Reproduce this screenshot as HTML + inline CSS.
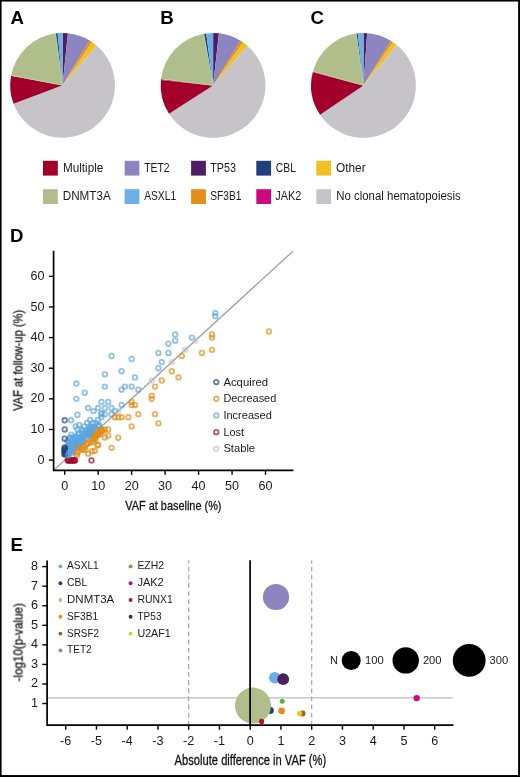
<!DOCTYPE html>
<html><head><meta charset="utf-8"><style>
html,body{margin:0;padding:0;background:#fff;}
body{width:520px;height:777px;overflow:hidden;}
svg{display:block;font-family:"Liberation Sans", sans-serif;}
text{will-change:transform;}
</style></head><body>
<svg width="520" height="777" viewBox="0 0 520 777">
<rect x="0" y="0" width="520" height="777" fill="#fff"/>
<text x="10.6" y="24.3" font-size="18.6" text-anchor="start" font-weight="bold" fill="#000">A</text>
<text x="160.2" y="24.3" font-size="18.6" text-anchor="start" font-weight="bold" fill="#000">B</text>
<text x="310.5" y="24.1" font-size="18.6" text-anchor="start" font-weight="bold" fill="#000">C</text>
<text x="10.0" y="241.7" font-size="18.6" text-anchor="start" font-weight="bold" fill="#000">D</text>
<text x="10.5" y="550.9" font-size="18.6" text-anchor="start" font-weight="bold" fill="#000">E</text>
<path d="M62.60,85.30 L62.60,32.90 A52.4,52.4 0 0 1 67.90,33.17 Z" fill="#4E1E63"/>
<path d="M62.60,85.30 L67.90,33.17 A52.4,52.4 0 0 1 89.74,40.48 Z" fill="#8D85C0"/>
<path d="M62.60,85.30 L89.74,40.48 A52.4,52.4 0 0 1 92.05,41.96 Z" fill="#E48F1B"/>
<path d="M62.60,85.30 L92.05,41.96 A52.4,52.4 0 0 1 96.63,45.45 Z" fill="#F0C120"/>
<path d="M62.60,85.30 L96.63,45.45 A52.4,52.4 0 1 1 13.58,103.82 Z" fill="#C6C4C9"/>
<path d="M62.60,85.30 L13.58,103.82 A52.4,52.4 0 0 1 11.09,75.66 Z" fill="#A2002B"/>
<path d="M62.60,85.30 L11.09,75.66 A52.4,52.4 0 0 1 55.76,33.35 Z" fill="#AFBE8B"/>
<path d="M62.60,85.30 L55.76,33.35 A52.4,52.4 0 0 1 57.67,33.13 Z" fill="#21407E"/>
<path d="M62.60,85.30 L57.67,33.13 A52.4,52.4 0 0 1 62.60,32.90 Z" fill="#6BAFE5"/>
<line x1="62.60" y1="85.30" x2="11.55" y2="75.42" stroke="#BCDB9E" stroke-width="0.7"/>
<line x1="62.60" y1="85.30" x2="55.50" y2="33.79" stroke="#BCDB9E" stroke-width="0.7"/>
<path d="M213.10,85.40 L213.10,33.00 A52.4,52.4 0 0 1 218.94,33.33 Z" fill="#4E1E63"/>
<path d="M213.10,85.40 L218.94,33.33 A52.4,52.4 0 0 1 240.63,40.82 Z" fill="#8D85C0"/>
<path d="M213.10,85.40 L240.63,40.82 A52.4,52.4 0 0 1 243.01,42.37 Z" fill="#E48F1B"/>
<path d="M213.10,85.40 L243.01,42.37 A52.4,52.4 0 0 1 247.34,45.73 Z" fill="#F0C120"/>
<path d="M213.10,85.40 L247.34,45.73 A52.4,52.4 0 1 1 169.00,113.71 Z" fill="#C6C4C9"/>
<path d="M213.10,85.40 L169.00,113.71 A52.4,52.4 0 0 1 160.99,79.92 Z" fill="#A2002B"/>
<path d="M213.10,85.40 L160.99,79.92 A52.4,52.4 0 0 1 161.08,79.10 Z" fill="#CC0A7F"/>
<path d="M213.10,85.40 L161.08,79.10 A52.4,52.4 0 0 1 204.00,33.80 Z" fill="#AFBE8B"/>
<path d="M213.10,85.40 L204.00,33.80 A52.4,52.4 0 0 1 206.26,33.45 Z" fill="#21407E"/>
<path d="M213.10,85.40 L206.26,33.45 A52.4,52.4 0 0 1 213.10,33.00 Z" fill="#6BAFE5"/>
<line x1="213.10" y1="85.40" x2="161.52" y2="78.84" stroke="#BCDB9E" stroke-width="0.7"/>
<line x1="213.10" y1="85.40" x2="203.76" y2="34.25" stroke="#BCDB9E" stroke-width="0.7"/>
<path d="M363.50,85.40 L363.50,33.00 A52.4,52.4 0 0 1 367.16,33.13 Z" fill="#4E1E63"/>
<path d="M363.50,85.40 L367.16,33.13 A52.4,52.4 0 0 1 390.96,40.77 Z" fill="#8D85C0"/>
<path d="M363.50,85.40 L390.96,40.77 A52.4,52.4 0 0 1 392.95,42.06 Z" fill="#E48F1B"/>
<path d="M363.50,85.40 L392.95,42.06 A52.4,52.4 0 0 1 396.83,44.97 Z" fill="#F0C120"/>
<path d="M363.50,85.40 L396.83,44.97 A52.4,52.4 0 1 1 320.06,114.70 Z" fill="#C6C4C9"/>
<path d="M363.50,85.40 L320.06,114.70 A52.4,52.4 0 0 1 312.77,72.28 Z" fill="#A2002B"/>
<path d="M363.50,85.40 L312.77,72.28 A52.4,52.4 0 0 1 312.98,71.48 Z" fill="#CC0A7F"/>
<path d="M363.50,85.40 L312.98,71.48 A52.4,52.4 0 0 1 356.39,33.48 Z" fill="#AFBE8B"/>
<path d="M363.50,85.40 L356.39,33.48 A52.4,52.4 0 0 1 357.75,33.32 Z" fill="#21407E"/>
<path d="M363.50,85.40 L357.75,33.32 A52.4,52.4 0 0 1 363.50,33.00 Z" fill="#6BAFE5"/>
<line x1="363.50" y1="85.40" x2="313.45" y2="71.29" stroke="#BCDB9E" stroke-width="0.7"/>
<line x1="363.50" y1="85.40" x2="356.13" y2="33.93" stroke="#BCDB9E" stroke-width="0.7"/>
<rect x="43" y="160.8" width="14.8" height="14.8" fill="#A2002B"/>
<text x="62.90" y="171.7" font-size="12" fill="#1a1a1a" textLength="40.40" lengthAdjust="spacingAndGlyphs">Multiple</text>
<rect x="124.6" y="160.8" width="14.8" height="14.8" fill="#8D85C0"/>
<text x="144.20" y="171.7" font-size="12" fill="#1a1a1a" textLength="25.40" lengthAdjust="spacingAndGlyphs">TET2</text>
<rect x="191.1" y="160.8" width="14.8" height="14.8" fill="#4E1E63"/>
<text x="210.20" y="171.7" font-size="12" fill="#1a1a1a" textLength="25.70" lengthAdjust="spacingAndGlyphs">TP53</text>
<rect x="256.3" y="160.8" width="14.8" height="14.8" fill="#21407E"/>
<text x="275.80" y="171.7" font-size="12" fill="#1a1a1a" textLength="20.20" lengthAdjust="spacingAndGlyphs">CBL</text>
<rect x="316.3" y="160.8" width="14.8" height="14.8" fill="#F0C120"/>
<text x="336.00" y="171.7" font-size="12" fill="#1a1a1a" textLength="29.60" lengthAdjust="spacingAndGlyphs">Other</text>
<rect x="43" y="189.2" width="14.8" height="14.8" fill="#AFBE8B"/>
<text x="62.70" y="200.1" font-size="12" fill="#1a1a1a" textLength="48.10" lengthAdjust="spacingAndGlyphs">DNMT3A</text>
<rect x="124.6" y="189.2" width="14.8" height="14.8" fill="#6BAFE5"/>
<text x="144.20" y="200.1" font-size="12" fill="#1a1a1a" textLength="31.90" lengthAdjust="spacingAndGlyphs">ASXL1</text>
<rect x="191.1" y="189.2" width="14.8" height="14.8" fill="#E48F1B"/>
<text x="210.20" y="200.1" font-size="12" fill="#1a1a1a" textLength="31.30" lengthAdjust="spacingAndGlyphs">SF3B1</text>
<rect x="256.3" y="189.2" width="14.8" height="14.8" fill="#CC0A7F"/>
<text x="275.20" y="200.1" font-size="12" fill="#1a1a1a" textLength="26.00" lengthAdjust="spacingAndGlyphs">JAK2</text>
<rect x="316.3" y="189.2" width="14.8" height="14.8" fill="#C6C4C9"/>
<text x="336.20" y="200.1" font-size="12" fill="#1a1a1a" textLength="124.60" lengthAdjust="spacingAndGlyphs">No clonal hematopoiesis</text>
<line x1="54.99" y1="468.98" x2="292.97" y2="251.20" stroke="#A3A3A3" stroke-width="1.35"/>
<path d="M53.6,250.8 L53.6,470.3 L293.4,470.3" fill="none" stroke="#000" stroke-width="1.7"/>
<line x1="48.9" y1="460.10" x2="53.6" y2="460.10" stroke="#000" stroke-width="1.4"/>
<text x="44.5" y="463.70000000000005" font-size="12.6" text-anchor="end" font-weight="normal" fill="#1a1a1a">0</text>
<line x1="64.70" y1="470.3" x2="64.70" y2="474.8" stroke="#000" stroke-width="1.4"/>
<text x="64.7" y="489.6" font-size="12.6" text-anchor="middle" font-weight="normal" fill="#1a1a1a">0</text>
<line x1="48.9" y1="429.47" x2="53.6" y2="429.47" stroke="#000" stroke-width="1.4"/>
<text x="44.5" y="433.07000000000005" font-size="12.6" text-anchor="end" font-weight="normal" fill="#1a1a1a">10</text>
<line x1="98.17" y1="470.3" x2="98.17" y2="474.8" stroke="#000" stroke-width="1.4"/>
<text x="98.17" y="489.6" font-size="12.6" text-anchor="middle" font-weight="normal" fill="#1a1a1a">10</text>
<line x1="48.9" y1="398.84" x2="53.6" y2="398.84" stroke="#000" stroke-width="1.4"/>
<text x="44.5" y="402.44000000000005" font-size="12.6" text-anchor="end" font-weight="normal" fill="#1a1a1a">20</text>
<line x1="131.64" y1="470.3" x2="131.64" y2="474.8" stroke="#000" stroke-width="1.4"/>
<text x="131.64" y="489.6" font-size="12.6" text-anchor="middle" font-weight="normal" fill="#1a1a1a">20</text>
<line x1="48.9" y1="368.21" x2="53.6" y2="368.21" stroke="#000" stroke-width="1.4"/>
<text x="44.5" y="371.81000000000006" font-size="12.6" text-anchor="end" font-weight="normal" fill="#1a1a1a">30</text>
<line x1="165.11" y1="470.3" x2="165.11" y2="474.8" stroke="#000" stroke-width="1.4"/>
<text x="165.11" y="489.6" font-size="12.6" text-anchor="middle" font-weight="normal" fill="#1a1a1a">30</text>
<line x1="48.9" y1="337.58" x2="53.6" y2="337.58" stroke="#000" stroke-width="1.4"/>
<text x="44.5" y="341.18000000000006" font-size="12.6" text-anchor="end" font-weight="normal" fill="#1a1a1a">40</text>
<line x1="198.58" y1="470.3" x2="198.58" y2="474.8" stroke="#000" stroke-width="1.4"/>
<text x="198.57999999999998" y="489.6" font-size="12.6" text-anchor="middle" font-weight="normal" fill="#1a1a1a">40</text>
<line x1="48.9" y1="306.95" x2="53.6" y2="306.95" stroke="#000" stroke-width="1.4"/>
<text x="44.5" y="310.55000000000007" font-size="12.6" text-anchor="end" font-weight="normal" fill="#1a1a1a">50</text>
<line x1="232.05" y1="470.3" x2="232.05" y2="474.8" stroke="#000" stroke-width="1.4"/>
<text x="232.05" y="489.6" font-size="12.6" text-anchor="middle" font-weight="normal" fill="#1a1a1a">50</text>
<line x1="48.9" y1="276.32" x2="53.6" y2="276.32" stroke="#000" stroke-width="1.4"/>
<text x="44.5" y="279.9200000000001" font-size="12.6" text-anchor="end" font-weight="normal" fill="#1a1a1a">60</text>
<line x1="265.52" y1="470.3" x2="265.52" y2="474.8" stroke="#000" stroke-width="1.4"/>
<text x="265.52" y="489.6" font-size="12.6" text-anchor="middle" font-weight="normal" fill="#1a1a1a">60</text>
<text x="125.3" y="509.5" font-size="13.7" text-anchor="start" font-weight="normal" fill="#111" textLength="96.2" lengthAdjust="spacingAndGlyphs" stroke="#111" stroke-width="0.3">VAF at baseline (%)</text>
<text transform="translate(22.4,410.8) rotate(-90)" x="0" y="0" font-size="13.4" fill="#111" stroke="#111" stroke-width="0.3" textLength="101" lengthAdjust="spacingAndGlyphs">VAF at follow-up (%)</text>
<circle cx="215.31" cy="313.08" r="2.3" fill="none" stroke="#5BA5E0" stroke-opacity="0.68" stroke-width="1.8"/>
<circle cx="215.31" cy="316.14" r="2.3" fill="none" stroke="#5BA5E0" stroke-opacity="0.68" stroke-width="1.8"/>
<circle cx="175.15" cy="334.52" r="2.3" fill="none" stroke="#5BA5E0" stroke-opacity="0.68" stroke-width="1.8"/>
<circle cx="175.15" cy="340.64" r="2.3" fill="none" stroke="#5BA5E0" stroke-opacity="0.68" stroke-width="1.8"/>
<circle cx="191.89" cy="337.58" r="2.3" fill="none" stroke="#5BA5E0" stroke-opacity="0.68" stroke-width="1.8"/>
<circle cx="168.46" cy="343.71" r="2.3" fill="none" stroke="#5BA5E0" stroke-opacity="0.68" stroke-width="1.8"/>
<circle cx="158.42" cy="352.89" r="2.3" fill="none" stroke="#5BA5E0" stroke-opacity="0.68" stroke-width="1.8"/>
<circle cx="168.46" cy="352.89" r="2.3" fill="none" stroke="#5BA5E0" stroke-opacity="0.68" stroke-width="1.8"/>
<circle cx="161.76" cy="362.08" r="2.3" fill="none" stroke="#5BA5E0" stroke-opacity="0.68" stroke-width="1.8"/>
<circle cx="158.42" cy="368.21" r="2.3" fill="none" stroke="#5BA5E0" stroke-opacity="0.68" stroke-width="1.8"/>
<circle cx="111.56" cy="355.96" r="2.3" fill="none" stroke="#5BA5E0" stroke-opacity="0.68" stroke-width="1.8"/>
<circle cx="131.64" cy="359.02" r="2.3" fill="none" stroke="#5BA5E0" stroke-opacity="0.68" stroke-width="1.8"/>
<circle cx="104.86" cy="374.34" r="2.3" fill="none" stroke="#5BA5E0" stroke-opacity="0.68" stroke-width="1.8"/>
<circle cx="121.60" cy="371.27" r="2.3" fill="none" stroke="#5BA5E0" stroke-opacity="0.68" stroke-width="1.8"/>
<circle cx="134.99" cy="377.40" r="2.3" fill="none" stroke="#5BA5E0" stroke-opacity="0.68" stroke-width="1.8"/>
<circle cx="76.41" cy="383.53" r="2.3" fill="none" stroke="#5BA5E0" stroke-opacity="0.68" stroke-width="1.8"/>
<circle cx="84.78" cy="392.71" r="2.3" fill="none" stroke="#5BA5E0" stroke-opacity="0.68" stroke-width="1.8"/>
<circle cx="104.86" cy="386.59" r="2.3" fill="none" stroke="#5BA5E0" stroke-opacity="0.68" stroke-width="1.8"/>
<circle cx="121.60" cy="389.65" r="2.3" fill="none" stroke="#5BA5E0" stroke-opacity="0.68" stroke-width="1.8"/>
<circle cx="124.95" cy="386.59" r="2.3" fill="none" stroke="#5BA5E0" stroke-opacity="0.68" stroke-width="1.8"/>
<circle cx="131.64" cy="386.59" r="2.3" fill="none" stroke="#5BA5E0" stroke-opacity="0.68" stroke-width="1.8"/>
<circle cx="76.41" cy="398.84" r="2.3" fill="none" stroke="#5BA5E0" stroke-opacity="0.68" stroke-width="1.8"/>
<circle cx="138.33" cy="389.65" r="2.3" fill="none" stroke="#5BA5E0" stroke-opacity="0.68" stroke-width="1.8"/>
<circle cx="121.60" cy="404.97" r="2.3" fill="none" stroke="#5BA5E0" stroke-opacity="0.68" stroke-width="1.8"/>
<circle cx="101.52" cy="401.90" r="2.3" fill="none" stroke="#5BA5E0" stroke-opacity="0.68" stroke-width="1.8"/>
<circle cx="108.21" cy="401.90" r="2.3" fill="none" stroke="#5BA5E0" stroke-opacity="0.68" stroke-width="1.8"/>
<circle cx="88.13" cy="408.03" r="2.3" fill="none" stroke="#5BA5E0" stroke-opacity="0.68" stroke-width="1.8"/>
<circle cx="93.48" cy="411.09" r="2.3" fill="none" stroke="#5BA5E0" stroke-opacity="0.68" stroke-width="1.8"/>
<circle cx="98.17" cy="408.03" r="2.3" fill="none" stroke="#5BA5E0" stroke-opacity="0.68" stroke-width="1.8"/>
<circle cx="104.86" cy="408.03" r="2.3" fill="none" stroke="#5BA5E0" stroke-opacity="0.68" stroke-width="1.8"/>
<circle cx="111.56" cy="408.03" r="2.3" fill="none" stroke="#5BA5E0" stroke-opacity="0.68" stroke-width="1.8"/>
<circle cx="114.91" cy="411.09" r="2.3" fill="none" stroke="#5BA5E0" stroke-opacity="0.68" stroke-width="1.8"/>
<circle cx="101.52" cy="414.16" r="2.3" fill="none" stroke="#5BA5E0" stroke-opacity="0.68" stroke-width="1.8"/>
<circle cx="101.52" cy="413.24" r="2.3" fill="none" stroke="#5BA5E0" stroke-opacity="0.68" stroke-width="1.8"/>
<circle cx="104.86" cy="414.16" r="2.3" fill="none" stroke="#5BA5E0" stroke-opacity="0.68" stroke-width="1.8"/>
<circle cx="111.56" cy="414.16" r="2.3" fill="none" stroke="#5BA5E0" stroke-opacity="0.68" stroke-width="1.8"/>
<circle cx="101.52" cy="417.22" r="2.3" fill="none" stroke="#5BA5E0" stroke-opacity="0.68" stroke-width="1.8"/>
<circle cx="90.14" cy="419.97" r="2.3" fill="none" stroke="#5BA5E0" stroke-opacity="0.68" stroke-width="1.8"/>
<circle cx="97.84" cy="419.97" r="2.3" fill="none" stroke="#5BA5E0" stroke-opacity="0.68" stroke-width="1.8"/>
<circle cx="77.42" cy="414.77" r="2.3" fill="none" stroke="#5BA5E0" stroke-opacity="0.68" stroke-width="1.8"/>
<circle cx="71.06" cy="420.28" r="2.3" fill="none" stroke="#5BA5E0" stroke-opacity="0.68" stroke-width="1.8"/>
<circle cx="75.75" cy="426.41" r="2.3" fill="none" stroke="#5BA5E0" stroke-opacity="0.68" stroke-width="1.8"/>
<circle cx="87.12" cy="423.04" r="2.3" fill="none" stroke="#5BA5E0" stroke-opacity="0.68" stroke-width="1.8"/>
<circle cx="84.11" cy="426.41" r="2.3" fill="none" stroke="#5BA5E0" stroke-opacity="0.68" stroke-width="1.8"/>
<circle cx="89.80" cy="426.41" r="2.3" fill="none" stroke="#5BA5E0" stroke-opacity="0.68" stroke-width="1.8"/>
<circle cx="77.42" cy="429.47" r="2.3" fill="none" stroke="#5BA5E0" stroke-opacity="0.68" stroke-width="1.8"/>
<circle cx="79.09" cy="424.88" r="2.3" fill="none" stroke="#5BA5E0" stroke-opacity="0.68" stroke-width="1.8"/>
<circle cx="92.81" cy="423.04" r="2.3" fill="none" stroke="#5BA5E0" stroke-opacity="0.68" stroke-width="1.8"/>
<circle cx="95.83" cy="423.04" r="2.3" fill="none" stroke="#5BA5E0" stroke-opacity="0.68" stroke-width="1.8"/>
<circle cx="78.42" cy="434.06" r="2.3" fill="none" stroke="#5BA5E0" stroke-opacity="0.68" stroke-width="1.8"/>
<circle cx="82.10" cy="429.47" r="2.3" fill="none" stroke="#5BA5E0" stroke-opacity="0.68" stroke-width="1.8"/>
<circle cx="71.39" cy="434.68" r="2.3" fill="none" stroke="#5BA5E0" stroke-opacity="0.68" stroke-width="1.8"/>
<circle cx="70.39" cy="438.66" r="2.3" fill="none" stroke="#5BA5E0" stroke-opacity="0.68" stroke-width="1.8"/>
<circle cx="67.24" cy="455.32" r="2.3" fill="none" stroke="#5BA5E0" stroke-opacity="0.68" stroke-width="1.8"/>
<circle cx="67.76" cy="453.99" r="2.3" fill="none" stroke="#5BA5E0" stroke-opacity="0.68" stroke-width="1.8"/>
<circle cx="67.72" cy="452.70" r="2.3" fill="none" stroke="#5BA5E0" stroke-opacity="0.68" stroke-width="1.8"/>
<circle cx="67.14" cy="450.95" r="2.3" fill="none" stroke="#5BA5E0" stroke-opacity="0.68" stroke-width="1.8"/>
<circle cx="68.15" cy="449.23" r="2.3" fill="none" stroke="#5BA5E0" stroke-opacity="0.68" stroke-width="1.8"/>
<circle cx="67.88" cy="446.53" r="2.3" fill="none" stroke="#5BA5E0" stroke-opacity="0.68" stroke-width="1.8"/>
<circle cx="68.35" cy="444.27" r="2.3" fill="none" stroke="#5BA5E0" stroke-opacity="0.68" stroke-width="1.8"/>
<circle cx="67.24" cy="440.81" r="2.3" fill="none" stroke="#5BA5E0" stroke-opacity="0.68" stroke-width="1.8"/>
<circle cx="69.50" cy="452.12" r="2.3" fill="none" stroke="#5BA5E0" stroke-opacity="0.68" stroke-width="1.8"/>
<circle cx="69.45" cy="451.14" r="2.3" fill="none" stroke="#5BA5E0" stroke-opacity="0.68" stroke-width="1.8"/>
<circle cx="68.99" cy="448.70" r="2.3" fill="none" stroke="#5BA5E0" stroke-opacity="0.68" stroke-width="1.8"/>
<circle cx="69.14" cy="447.13" r="2.3" fill="none" stroke="#5BA5E0" stroke-opacity="0.68" stroke-width="1.8"/>
<circle cx="69.12" cy="445.19" r="2.3" fill="none" stroke="#5BA5E0" stroke-opacity="0.68" stroke-width="1.8"/>
<circle cx="69.49" cy="442.15" r="2.3" fill="none" stroke="#5BA5E0" stroke-opacity="0.68" stroke-width="1.8"/>
<circle cx="70.03" cy="437.60" r="2.3" fill="none" stroke="#5BA5E0" stroke-opacity="0.68" stroke-width="1.8"/>
<circle cx="71.40" cy="452.87" r="2.3" fill="none" stroke="#5BA5E0" stroke-opacity="0.68" stroke-width="1.8"/>
<circle cx="70.44" cy="450.55" r="2.3" fill="none" stroke="#5BA5E0" stroke-opacity="0.68" stroke-width="1.8"/>
<circle cx="71.56" cy="447.62" r="2.3" fill="none" stroke="#5BA5E0" stroke-opacity="0.68" stroke-width="1.8"/>
<circle cx="72.95" cy="451.45" r="2.3" fill="none" stroke="#5BA5E0" stroke-opacity="0.68" stroke-width="1.8"/>
<circle cx="72.93" cy="448.62" r="2.3" fill="none" stroke="#5BA5E0" stroke-opacity="0.68" stroke-width="1.8"/>
<circle cx="72.58" cy="445.65" r="2.3" fill="none" stroke="#5BA5E0" stroke-opacity="0.68" stroke-width="1.8"/>
<circle cx="72.68" cy="444.58" r="2.3" fill="none" stroke="#5BA5E0" stroke-opacity="0.68" stroke-width="1.8"/>
<circle cx="72.14" cy="442.16" r="2.3" fill="none" stroke="#5BA5E0" stroke-opacity="0.68" stroke-width="1.8"/>
<circle cx="72.39" cy="440.94" r="2.3" fill="none" stroke="#5BA5E0" stroke-opacity="0.68" stroke-width="1.8"/>
<circle cx="72.66" cy="437.37" r="2.3" fill="none" stroke="#5BA5E0" stroke-opacity="0.68" stroke-width="1.8"/>
<circle cx="74.29" cy="446.18" r="2.3" fill="none" stroke="#5BA5E0" stroke-opacity="0.68" stroke-width="1.8"/>
<circle cx="73.97" cy="441.28" r="2.3" fill="none" stroke="#5BA5E0" stroke-opacity="0.68" stroke-width="1.8"/>
<circle cx="74.39" cy="439.16" r="2.3" fill="none" stroke="#5BA5E0" stroke-opacity="0.68" stroke-width="1.8"/>
<circle cx="73.74" cy="437.69" r="2.3" fill="none" stroke="#5BA5E0" stroke-opacity="0.68" stroke-width="1.8"/>
<circle cx="76.69" cy="447.61" r="2.3" fill="none" stroke="#5BA5E0" stroke-opacity="0.68" stroke-width="1.8"/>
<circle cx="76.24" cy="445.95" r="2.3" fill="none" stroke="#5BA5E0" stroke-opacity="0.68" stroke-width="1.8"/>
<circle cx="76.61" cy="444.14" r="2.3" fill="none" stroke="#5BA5E0" stroke-opacity="0.68" stroke-width="1.8"/>
<circle cx="75.94" cy="439.91" r="2.3" fill="none" stroke="#5BA5E0" stroke-opacity="0.68" stroke-width="1.8"/>
<circle cx="75.50" cy="436.41" r="2.3" fill="none" stroke="#5BA5E0" stroke-opacity="0.68" stroke-width="1.8"/>
<circle cx="77.54" cy="446.86" r="2.3" fill="none" stroke="#5BA5E0" stroke-opacity="0.68" stroke-width="1.8"/>
<circle cx="77.29" cy="445.12" r="2.3" fill="none" stroke="#5BA5E0" stroke-opacity="0.68" stroke-width="1.8"/>
<circle cx="77.12" cy="442.49" r="2.3" fill="none" stroke="#5BA5E0" stroke-opacity="0.68" stroke-width="1.8"/>
<circle cx="77.42" cy="439.76" r="2.3" fill="none" stroke="#5BA5E0" stroke-opacity="0.68" stroke-width="1.8"/>
<circle cx="77.25" cy="437.47" r="2.3" fill="none" stroke="#5BA5E0" stroke-opacity="0.68" stroke-width="1.8"/>
<circle cx="78.87" cy="445.27" r="2.3" fill="none" stroke="#5BA5E0" stroke-opacity="0.68" stroke-width="1.8"/>
<circle cx="79.11" cy="442.70" r="2.3" fill="none" stroke="#5BA5E0" stroke-opacity="0.68" stroke-width="1.8"/>
<circle cx="78.79" cy="440.86" r="2.3" fill="none" stroke="#5BA5E0" stroke-opacity="0.68" stroke-width="1.8"/>
<circle cx="78.95" cy="439.68" r="2.3" fill="none" stroke="#5BA5E0" stroke-opacity="0.68" stroke-width="1.8"/>
<circle cx="79.46" cy="437.46" r="2.3" fill="none" stroke="#5BA5E0" stroke-opacity="0.68" stroke-width="1.8"/>
<circle cx="79.25" cy="433.40" r="2.3" fill="none" stroke="#5BA5E0" stroke-opacity="0.68" stroke-width="1.8"/>
<circle cx="81.14" cy="442.91" r="2.3" fill="none" stroke="#5BA5E0" stroke-opacity="0.68" stroke-width="1.8"/>
<circle cx="80.73" cy="441.19" r="2.3" fill="none" stroke="#5BA5E0" stroke-opacity="0.68" stroke-width="1.8"/>
<circle cx="82.80" cy="441.90" r="2.3" fill="none" stroke="#5BA5E0" stroke-opacity="0.68" stroke-width="1.8"/>
<circle cx="82.14" cy="440.31" r="2.3" fill="none" stroke="#5BA5E0" stroke-opacity="0.68" stroke-width="1.8"/>
<circle cx="83.03" cy="437.79" r="2.3" fill="none" stroke="#5BA5E0" stroke-opacity="0.68" stroke-width="1.8"/>
<circle cx="83.36" cy="436.07" r="2.3" fill="none" stroke="#5BA5E0" stroke-opacity="0.68" stroke-width="1.8"/>
<circle cx="82.40" cy="433.63" r="2.3" fill="none" stroke="#5BA5E0" stroke-opacity="0.68" stroke-width="1.8"/>
<circle cx="82.38" cy="431.46" r="2.3" fill="none" stroke="#5BA5E0" stroke-opacity="0.68" stroke-width="1.8"/>
<circle cx="84.65" cy="436.45" r="2.3" fill="none" stroke="#5BA5E0" stroke-opacity="0.68" stroke-width="1.8"/>
<circle cx="84.66" cy="434.63" r="2.3" fill="none" stroke="#5BA5E0" stroke-opacity="0.68" stroke-width="1.8"/>
<circle cx="86.51" cy="438.86" r="2.3" fill="none" stroke="#5BA5E0" stroke-opacity="0.68" stroke-width="1.8"/>
<circle cx="85.99" cy="433.06" r="2.3" fill="none" stroke="#5BA5E0" stroke-opacity="0.68" stroke-width="1.8"/>
<circle cx="85.62" cy="430.66" r="2.3" fill="none" stroke="#5BA5E0" stroke-opacity="0.68" stroke-width="1.8"/>
<circle cx="88.23" cy="434.85" r="2.3" fill="none" stroke="#5BA5E0" stroke-opacity="0.68" stroke-width="1.8"/>
<circle cx="87.86" cy="432.53" r="2.3" fill="none" stroke="#5BA5E0" stroke-opacity="0.68" stroke-width="1.8"/>
<circle cx="88.42" cy="430.21" r="2.3" fill="none" stroke="#5BA5E0" stroke-opacity="0.68" stroke-width="1.8"/>
<circle cx="89.97" cy="435.20" r="2.3" fill="none" stroke="#5BA5E0" stroke-opacity="0.68" stroke-width="1.8"/>
<circle cx="89.14" cy="434.17" r="2.3" fill="none" stroke="#5BA5E0" stroke-opacity="0.68" stroke-width="1.8"/>
<circle cx="89.58" cy="432.52" r="2.3" fill="none" stroke="#5BA5E0" stroke-opacity="0.68" stroke-width="1.8"/>
<circle cx="88.97" cy="430.04" r="2.3" fill="none" stroke="#5BA5E0" stroke-opacity="0.68" stroke-width="1.8"/>
<circle cx="89.41" cy="428.76" r="2.3" fill="none" stroke="#5BA5E0" stroke-opacity="0.68" stroke-width="1.8"/>
<circle cx="91.70" cy="434.06" r="2.3" fill="none" stroke="#5BA5E0" stroke-opacity="0.68" stroke-width="1.8"/>
<circle cx="91.17" cy="432.97" r="2.3" fill="none" stroke="#5BA5E0" stroke-opacity="0.68" stroke-width="1.8"/>
<circle cx="90.72" cy="431.30" r="2.3" fill="none" stroke="#5BA5E0" stroke-opacity="0.68" stroke-width="1.8"/>
<circle cx="91.11" cy="427.05" r="2.3" fill="none" stroke="#5BA5E0" stroke-opacity="0.68" stroke-width="1.8"/>
<circle cx="92.84" cy="432.47" r="2.3" fill="none" stroke="#5BA5E0" stroke-opacity="0.68" stroke-width="1.8"/>
<circle cx="92.90" cy="429.47" r="2.3" fill="none" stroke="#5BA5E0" stroke-opacity="0.68" stroke-width="1.8"/>
<circle cx="93.18" cy="427.47" r="2.3" fill="none" stroke="#5BA5E0" stroke-opacity="0.68" stroke-width="1.8"/>
<circle cx="94.64" cy="427.63" r="2.3" fill="none" stroke="#5BA5E0" stroke-opacity="0.68" stroke-width="1.8"/>
<circle cx="96.21" cy="429.50" r="2.3" fill="none" stroke="#5BA5E0" stroke-opacity="0.68" stroke-width="1.8"/>
<circle cx="97.91" cy="425.71" r="2.3" fill="none" stroke="#5BA5E0" stroke-opacity="0.68" stroke-width="1.8"/>
<circle cx="99.00" cy="426.48" r="2.3" fill="none" stroke="#5BA5E0" stroke-opacity="0.68" stroke-width="1.8"/>
<circle cx="99.16" cy="425.25" r="2.3" fill="none" stroke="#5BA5E0" stroke-opacity="0.68" stroke-width="1.8"/>
<circle cx="68.38" cy="455.51" r="2.3" fill="none" stroke="#5BA5E0" stroke-opacity="0.68" stroke-width="1.8"/>
<circle cx="268.87" cy="331.45" r="2.3" fill="none" stroke="#E08A10" stroke-opacity="0.68" stroke-width="1.8"/>
<circle cx="211.97" cy="334.52" r="2.3" fill="none" stroke="#E08A10" stroke-opacity="0.68" stroke-width="1.8"/>
<circle cx="211.97" cy="337.58" r="2.3" fill="none" stroke="#E08A10" stroke-opacity="0.68" stroke-width="1.8"/>
<circle cx="181.84" cy="355.96" r="2.3" fill="none" stroke="#E08A10" stroke-opacity="0.68" stroke-width="1.8"/>
<circle cx="201.93" cy="352.89" r="2.3" fill="none" stroke="#E08A10" stroke-opacity="0.68" stroke-width="1.8"/>
<circle cx="211.97" cy="349.83" r="2.3" fill="none" stroke="#E08A10" stroke-opacity="0.68" stroke-width="1.8"/>
<circle cx="178.50" cy="377.40" r="2.3" fill="none" stroke="#E08A10" stroke-opacity="0.68" stroke-width="1.8"/>
<circle cx="171.80" cy="371.27" r="2.3" fill="none" stroke="#E08A10" stroke-opacity="0.68" stroke-width="1.8"/>
<circle cx="161.76" cy="380.46" r="2.3" fill="none" stroke="#E08A10" stroke-opacity="0.68" stroke-width="1.8"/>
<circle cx="155.07" cy="386.59" r="2.3" fill="none" stroke="#E08A10" stroke-opacity="0.68" stroke-width="1.8"/>
<circle cx="151.72" cy="395.78" r="2.3" fill="none" stroke="#E08A10" stroke-opacity="0.68" stroke-width="1.8"/>
<circle cx="151.72" cy="398.84" r="2.3" fill="none" stroke="#E08A10" stroke-opacity="0.68" stroke-width="1.8"/>
<circle cx="131.64" cy="401.90" r="2.3" fill="none" stroke="#E08A10" stroke-opacity="0.68" stroke-width="1.8"/>
<circle cx="131.64" cy="404.97" r="2.3" fill="none" stroke="#E08A10" stroke-opacity="0.68" stroke-width="1.8"/>
<circle cx="134.99" cy="404.97" r="2.3" fill="none" stroke="#E08A10" stroke-opacity="0.68" stroke-width="1.8"/>
<circle cx="138.33" cy="414.16" r="2.3" fill="none" stroke="#E08A10" stroke-opacity="0.68" stroke-width="1.8"/>
<circle cx="155.07" cy="414.16" r="2.3" fill="none" stroke="#E08A10" stroke-opacity="0.68" stroke-width="1.8"/>
<circle cx="114.91" cy="417.22" r="2.3" fill="none" stroke="#E08A10" stroke-opacity="0.68" stroke-width="1.8"/>
<circle cx="118.25" cy="417.22" r="2.3" fill="none" stroke="#E08A10" stroke-opacity="0.68" stroke-width="1.8"/>
<circle cx="121.60" cy="417.22" r="2.3" fill="none" stroke="#E08A10" stroke-opacity="0.68" stroke-width="1.8"/>
<circle cx="128.29" cy="417.22" r="2.3" fill="none" stroke="#E08A10" stroke-opacity="0.68" stroke-width="1.8"/>
<circle cx="158.42" cy="423.34" r="2.3" fill="none" stroke="#E08A10" stroke-opacity="0.68" stroke-width="1.8"/>
<circle cx="131.64" cy="426.41" r="2.3" fill="none" stroke="#E08A10" stroke-opacity="0.68" stroke-width="1.8"/>
<circle cx="101.52" cy="429.47" r="2.3" fill="none" stroke="#E08A10" stroke-opacity="0.68" stroke-width="1.8"/>
<circle cx="104.86" cy="429.47" r="2.3" fill="none" stroke="#E08A10" stroke-opacity="0.68" stroke-width="1.8"/>
<circle cx="108.21" cy="429.47" r="2.3" fill="none" stroke="#E08A10" stroke-opacity="0.68" stroke-width="1.8"/>
<circle cx="104.86" cy="437.43" r="2.3" fill="none" stroke="#E08A10" stroke-opacity="0.68" stroke-width="1.8"/>
<circle cx="108.21" cy="435.60" r="2.3" fill="none" stroke="#E08A10" stroke-opacity="0.68" stroke-width="1.8"/>
<circle cx="118.25" cy="437.74" r="2.3" fill="none" stroke="#E08A10" stroke-opacity="0.68" stroke-width="1.8"/>
<circle cx="98.17" cy="444.79" r="2.3" fill="none" stroke="#E08A10" stroke-opacity="0.68" stroke-width="1.8"/>
<circle cx="94.82" cy="438.66" r="2.3" fill="none" stroke="#E08A10" stroke-opacity="0.68" stroke-width="1.8"/>
<circle cx="111.56" cy="447.85" r="2.3" fill="none" stroke="#E08A10" stroke-opacity="0.68" stroke-width="1.8"/>
<circle cx="78.42" cy="447.54" r="2.3" fill="none" stroke="#E08A10" stroke-opacity="0.68" stroke-width="1.8"/>
<circle cx="88.13" cy="453.67" r="2.3" fill="none" stroke="#E08A10" stroke-opacity="0.68" stroke-width="1.8"/>
<circle cx="92.15" cy="451.22" r="2.3" fill="none" stroke="#E08A10" stroke-opacity="0.68" stroke-width="1.8"/>
<circle cx="95.49" cy="439.58" r="2.3" fill="none" stroke="#E08A10" stroke-opacity="0.68" stroke-width="1.8"/>
<circle cx="97.50" cy="445.40" r="2.3" fill="none" stroke="#E08A10" stroke-opacity="0.68" stroke-width="1.8"/>
<circle cx="94.82" cy="450.91" r="2.3" fill="none" stroke="#E08A10" stroke-opacity="0.68" stroke-width="1.8"/>
<circle cx="96.83" cy="434.98" r="2.3" fill="none" stroke="#E08A10" stroke-opacity="0.68" stroke-width="1.8"/>
<circle cx="85.45" cy="449.99" r="2.3" fill="none" stroke="#E08A10" stroke-opacity="0.68" stroke-width="1.8"/>
<circle cx="101.52" cy="430.08" r="2.3" fill="none" stroke="#E08A10" stroke-opacity="0.68" stroke-width="1.8"/>
<circle cx="98.17" cy="431.00" r="2.3" fill="none" stroke="#E08A10" stroke-opacity="0.68" stroke-width="1.8"/>
<circle cx="76.58" cy="453.71" r="2.3" fill="none" stroke="#E08A10" stroke-opacity="0.68" stroke-width="1.8"/>
<circle cx="76.88" cy="455.34" r="2.3" fill="none" stroke="#E08A10" stroke-opacity="0.68" stroke-width="1.8"/>
<circle cx="77.99" cy="451.89" r="2.3" fill="none" stroke="#E08A10" stroke-opacity="0.68" stroke-width="1.8"/>
<circle cx="81.45" cy="449.46" r="2.3" fill="none" stroke="#E08A10" stroke-opacity="0.68" stroke-width="1.8"/>
<circle cx="83.33" cy="448.07" r="2.3" fill="none" stroke="#E08A10" stroke-opacity="0.68" stroke-width="1.8"/>
<circle cx="83.05" cy="449.62" r="2.3" fill="none" stroke="#E08A10" stroke-opacity="0.68" stroke-width="1.8"/>
<circle cx="84.91" cy="446.52" r="2.3" fill="none" stroke="#E08A10" stroke-opacity="0.68" stroke-width="1.8"/>
<circle cx="86.75" cy="444.19" r="2.3" fill="none" stroke="#E08A10" stroke-opacity="0.68" stroke-width="1.8"/>
<circle cx="87.67" cy="443.54" r="2.3" fill="none" stroke="#E08A10" stroke-opacity="0.68" stroke-width="1.8"/>
<circle cx="89.72" cy="442.18" r="2.3" fill="none" stroke="#E08A10" stroke-opacity="0.68" stroke-width="1.8"/>
<circle cx="91.90" cy="442.46" r="2.3" fill="none" stroke="#E08A10" stroke-opacity="0.68" stroke-width="1.8"/>
<circle cx="92.74" cy="438.41" r="2.3" fill="none" stroke="#E08A10" stroke-opacity="0.68" stroke-width="1.8"/>
<circle cx="93.07" cy="440.27" r="2.3" fill="none" stroke="#E08A10" stroke-opacity="0.68" stroke-width="1.8"/>
<circle cx="94.96" cy="436.59" r="2.3" fill="none" stroke="#E08A10" stroke-opacity="0.68" stroke-width="1.8"/>
<circle cx="96.06" cy="435.16" r="2.3" fill="none" stroke="#E08A10" stroke-opacity="0.68" stroke-width="1.8"/>
<circle cx="98.22" cy="434.26" r="2.3" fill="none" stroke="#E08A10" stroke-opacity="0.68" stroke-width="1.8"/>
<circle cx="99.87" cy="432.99" r="2.3" fill="none" stroke="#E08A10" stroke-opacity="0.68" stroke-width="1.8"/>
<circle cx="99.50" cy="434.85" r="2.3" fill="none" stroke="#E08A10" stroke-opacity="0.68" stroke-width="1.8"/>
<circle cx="101.33" cy="431.37" r="2.3" fill="none" stroke="#E08A10" stroke-opacity="0.68" stroke-width="1.8"/>
<circle cx="102.87" cy="431.31" r="2.3" fill="none" stroke="#E08A10" stroke-opacity="0.68" stroke-width="1.8"/>
<circle cx="64.70" cy="420.28" r="2.3" fill="none" stroke="#1F3F7A" stroke-opacity="0.68" stroke-width="1.8"/>
<circle cx="64.70" cy="429.47" r="2.3" fill="none" stroke="#1F3F7A" stroke-opacity="0.68" stroke-width="1.8"/>
<circle cx="64.70" cy="438.66" r="2.3" fill="none" stroke="#1F3F7A" stroke-opacity="0.68" stroke-width="1.8"/>
<circle cx="64.70" cy="447.54" r="2.3" fill="none" stroke="#1F3F7A" stroke-opacity="0.68" stroke-width="1.8"/>
<circle cx="64.70" cy="448.46" r="2.3" fill="none" stroke="#1F3F7A" stroke-opacity="0.68" stroke-width="1.8"/>
<circle cx="64.70" cy="449.38" r="2.3" fill="none" stroke="#1F3F7A" stroke-opacity="0.68" stroke-width="1.8"/>
<circle cx="64.70" cy="450.30" r="2.3" fill="none" stroke="#1F3F7A" stroke-opacity="0.68" stroke-width="1.8"/>
<circle cx="64.70" cy="451.22" r="2.3" fill="none" stroke="#1F3F7A" stroke-opacity="0.68" stroke-width="1.8"/>
<circle cx="64.70" cy="452.14" r="2.3" fill="none" stroke="#1F3F7A" stroke-opacity="0.68" stroke-width="1.8"/>
<circle cx="64.70" cy="453.06" r="2.3" fill="none" stroke="#1F3F7A" stroke-opacity="0.68" stroke-width="1.8"/>
<circle cx="64.70" cy="453.97" r="2.3" fill="none" stroke="#1F3F7A" stroke-opacity="0.68" stroke-width="1.8"/>
<circle cx="64.70" cy="454.59" r="2.3" fill="none" stroke="#1F3F7A" stroke-opacity="0.68" stroke-width="1.8"/>
<circle cx="67.71" cy="460.41" r="2.3" fill="none" stroke="#A3002B" stroke-opacity="0.68" stroke-width="1.8"/>
<circle cx="68.38" cy="460.41" r="2.3" fill="none" stroke="#A3002B" stroke-opacity="0.68" stroke-width="1.8"/>
<circle cx="69.39" cy="460.41" r="2.3" fill="none" stroke="#A3002B" stroke-opacity="0.68" stroke-width="1.8"/>
<circle cx="70.06" cy="460.41" r="2.3" fill="none" stroke="#A3002B" stroke-opacity="0.68" stroke-width="1.8"/>
<circle cx="71.06" cy="460.41" r="2.3" fill="none" stroke="#A3002B" stroke-opacity="0.68" stroke-width="1.8"/>
<circle cx="71.73" cy="460.41" r="2.3" fill="none" stroke="#A3002B" stroke-opacity="0.68" stroke-width="1.8"/>
<circle cx="72.73" cy="460.41" r="2.3" fill="none" stroke="#A3002B" stroke-opacity="0.68" stroke-width="1.8"/>
<circle cx="73.40" cy="460.41" r="2.3" fill="none" stroke="#A3002B" stroke-opacity="0.68" stroke-width="1.8"/>
<circle cx="74.41" cy="460.41" r="2.3" fill="none" stroke="#A3002B" stroke-opacity="0.68" stroke-width="1.8"/>
<circle cx="75.08" cy="460.41" r="2.3" fill="none" stroke="#A3002B" stroke-opacity="0.68" stroke-width="1.8"/>
<circle cx="91.48" cy="460.41" r="2.3" fill="none" stroke="#A3002B" stroke-opacity="0.68" stroke-width="1.8"/>
<circle cx="68.38" cy="455.51" r="2.3" fill="none" stroke="#5BA5E0" stroke-opacity="0.68" stroke-width="1.8"/>
<circle cx="69.39" cy="452.14" r="2.3" fill="none" stroke="#5BA5E0" stroke-opacity="0.68" stroke-width="1.8"/>
<circle cx="72.06" cy="450.60" r="2.3" fill="none" stroke="#5BA5E0" stroke-opacity="0.68" stroke-width="1.8"/>
<circle cx="195.23" cy="340.64" r="2.3" fill="none" stroke="#C4C4C4" stroke-opacity="0.68" stroke-width="1.8"/>
<circle cx="185.19" cy="349.83" r="2.3" fill="none" stroke="#C4C4C4" stroke-opacity="0.68" stroke-width="1.8"/>
<circle cx="171.80" cy="362.08" r="2.3" fill="none" stroke="#C4C4C4" stroke-opacity="0.68" stroke-width="1.8"/>
<circle cx="151.72" cy="380.46" r="2.3" fill="none" stroke="#C4C4C4" stroke-opacity="0.68" stroke-width="1.8"/>
<circle cx="118.25" cy="411.09" r="2.3" fill="none" stroke="#C4C4C4" stroke-opacity="0.68" stroke-width="1.8"/>
<circle cx="216.3" cy="382.10" r="2.3" fill="none" stroke="#1F3F7A" stroke-opacity="0.68" stroke-width="1.8"/>
<text x="223.40" y="385.7" font-size="11.4" fill="#1a1a1a" textLength="44.70" lengthAdjust="spacingAndGlyphs">Acquired</text>
<circle cx="216.3" cy="398.78" r="2.3" fill="none" stroke="#E08A10" stroke-opacity="0.68" stroke-width="1.8"/>
<text x="223.40" y="402.38" font-size="11.4" fill="#1a1a1a" textLength="52.90" lengthAdjust="spacingAndGlyphs">Decreased</text>
<circle cx="216.3" cy="415.46" r="2.3" fill="none" stroke="#5BA5E0" stroke-opacity="0.68" stroke-width="1.8"/>
<text x="223.40" y="419.06" font-size="11.4" fill="#1a1a1a" textLength="48.40" lengthAdjust="spacingAndGlyphs">Increased</text>
<circle cx="216.3" cy="432.14" r="2.3" fill="none" stroke="#A3002B" stroke-opacity="0.68" stroke-width="1.8"/>
<text x="223.40" y="435.74" font-size="11.4" fill="#1a1a1a" textLength="20.70" lengthAdjust="spacingAndGlyphs">Lost</text>
<circle cx="216.3" cy="448.82" r="2.3" fill="none" stroke="#C4C4C4" stroke-opacity="0.68" stroke-width="1.8"/>
<text x="223.40" y="452.42" font-size="11.4" fill="#1a1a1a" textLength="31.71" lengthAdjust="spacingAndGlyphs">Stable</text>
<line x1="47.5" y1="697.8" x2="453" y2="697.8" stroke="#BDBDBD" stroke-width="1.2"/>
<line x1="188.70" y1="560.3" x2="188.70" y2="724.5" stroke="#9E9E9E" stroke-width="1.1" stroke-dasharray="4.6 3.5" stroke-dashoffset="1.5"/>
<line x1="311.70" y1="560.3" x2="311.70" y2="724.5" stroke="#9E9E9E" stroke-width="1.1" stroke-dasharray="4.6 3.5" stroke-dashoffset="1.5"/>
<circle cx="274.8" cy="677.7" r="5.8" fill="#6BAFE5"/>
<circle cx="270.4" cy="710.5" r="3.4" fill="#21407E"/>
<circle cx="253.0" cy="705.6" r="18.0" fill="#AFBE8B"/>
<circle cx="282.2" cy="701.2" r="2.5" fill="#5CB045"/>
<circle cx="416.7" cy="698.1" r="3.2" fill="#CC0A7F"/>
<circle cx="261.6" cy="721.4" r="2.6" fill="#B3102C"/>
<circle cx="281.6" cy="710.9" r="3.3" fill="#E48F1B"/>
<circle cx="302.5" cy="713.4" r="3.0" fill="#A45B1B"/>
<circle cx="276.0" cy="597.0" r="13.1" fill="#8D85C0"/>
<circle cx="283.2" cy="679.2" r="5.9" fill="#4E1E63"/>
<circle cx="299.7" cy="713.4" r="2.6" fill="#F0C120"/>
<line x1="250.1" y1="560.2" x2="250.1" y2="725" stroke="#000" stroke-width="1.7"/>
<path d="M47.1,560.6 L47.1,725.1 L453.5,725.1" fill="none" stroke="#000" stroke-width="1.7"/>
<line x1="42.3" y1="703.54" x2="47.1" y2="703.54" stroke="#000" stroke-width="1.4"/>
<text x="37.9" y="707.0400000000001" font-size="12.6" text-anchor="end" font-weight="normal" fill="#1a1a1a">1</text>
<line x1="42.3" y1="683.98" x2="47.1" y2="683.98" stroke="#000" stroke-width="1.4"/>
<text x="37.9" y="687.48" font-size="12.6" text-anchor="end" font-weight="normal" fill="#1a1a1a">2</text>
<line x1="42.3" y1="664.42" x2="47.1" y2="664.42" stroke="#000" stroke-width="1.4"/>
<text x="37.9" y="667.9200000000001" font-size="12.6" text-anchor="end" font-weight="normal" fill="#1a1a1a">3</text>
<line x1="42.3" y1="644.86" x2="47.1" y2="644.86" stroke="#000" stroke-width="1.4"/>
<text x="37.9" y="648.36" font-size="12.6" text-anchor="end" font-weight="normal" fill="#1a1a1a">4</text>
<line x1="42.3" y1="625.30" x2="47.1" y2="625.30" stroke="#000" stroke-width="1.4"/>
<text x="37.9" y="628.8000000000001" font-size="12.6" text-anchor="end" font-weight="normal" fill="#1a1a1a">5</text>
<line x1="42.3" y1="605.74" x2="47.1" y2="605.74" stroke="#000" stroke-width="1.4"/>
<text x="37.9" y="609.24" font-size="12.6" text-anchor="end" font-weight="normal" fill="#1a1a1a">6</text>
<line x1="42.3" y1="586.18" x2="47.1" y2="586.18" stroke="#000" stroke-width="1.4"/>
<text x="37.9" y="589.6800000000001" font-size="12.6" text-anchor="end" font-weight="normal" fill="#1a1a1a">7</text>
<line x1="42.3" y1="566.62" x2="47.1" y2="566.62" stroke="#000" stroke-width="1.4"/>
<text x="37.9" y="570.12" font-size="12.6" text-anchor="end" font-weight="normal" fill="#1a1a1a">8</text>
<line x1="65.70" y1="725.1" x2="65.70" y2="729.7" stroke="#000" stroke-width="1.4"/>
<text x="65.69999999999999" y="744.7" font-size="12.6" text-anchor="middle" font-weight="normal" fill="#1a1a1a">-6</text>
<line x1="96.45" y1="725.1" x2="96.45" y2="729.7" stroke="#000" stroke-width="1.4"/>
<text x="96.44999999999999" y="744.7" font-size="12.6" text-anchor="middle" font-weight="normal" fill="#1a1a1a">-5</text>
<line x1="127.20" y1="725.1" x2="127.20" y2="729.7" stroke="#000" stroke-width="1.4"/>
<text x="127.19999999999999" y="744.7" font-size="12.6" text-anchor="middle" font-weight="normal" fill="#1a1a1a">-4</text>
<line x1="157.95" y1="725.1" x2="157.95" y2="729.7" stroke="#000" stroke-width="1.4"/>
<text x="157.95" y="744.7" font-size="12.6" text-anchor="middle" font-weight="normal" fill="#1a1a1a">-3</text>
<line x1="188.70" y1="725.1" x2="188.70" y2="729.7" stroke="#000" stroke-width="1.4"/>
<text x="188.7" y="744.7" font-size="12.6" text-anchor="middle" font-weight="normal" fill="#1a1a1a">-2</text>
<line x1="219.45" y1="725.1" x2="219.45" y2="729.7" stroke="#000" stroke-width="1.4"/>
<text x="219.45" y="744.7" font-size="12.6" text-anchor="middle" font-weight="normal" fill="#1a1a1a">-1</text>
<line x1="250.20" y1="725.1" x2="250.20" y2="729.7" stroke="#000" stroke-width="1.4"/>
<text x="250.2" y="744.7" font-size="12.6" text-anchor="middle" font-weight="normal" fill="#1a1a1a">0</text>
<line x1="280.95" y1="725.1" x2="280.95" y2="729.7" stroke="#000" stroke-width="1.4"/>
<text x="280.95" y="744.7" font-size="12.6" text-anchor="middle" font-weight="normal" fill="#1a1a1a">1</text>
<line x1="311.70" y1="725.1" x2="311.70" y2="729.7" stroke="#000" stroke-width="1.4"/>
<text x="311.7" y="744.7" font-size="12.6" text-anchor="middle" font-weight="normal" fill="#1a1a1a">2</text>
<line x1="342.45" y1="725.1" x2="342.45" y2="729.7" stroke="#000" stroke-width="1.4"/>
<text x="342.45" y="744.7" font-size="12.6" text-anchor="middle" font-weight="normal" fill="#1a1a1a">3</text>
<line x1="373.20" y1="725.1" x2="373.20" y2="729.7" stroke="#000" stroke-width="1.4"/>
<text x="373.2" y="744.7" font-size="12.6" text-anchor="middle" font-weight="normal" fill="#1a1a1a">4</text>
<line x1="403.95" y1="725.1" x2="403.95" y2="729.7" stroke="#000" stroke-width="1.4"/>
<text x="403.95" y="744.7" font-size="12.6" text-anchor="middle" font-weight="normal" fill="#1a1a1a">5</text>
<line x1="434.70" y1="725.1" x2="434.70" y2="729.7" stroke="#000" stroke-width="1.4"/>
<text x="434.7" y="744.7" font-size="12.6" text-anchor="middle" font-weight="normal" fill="#1a1a1a">6</text>
<text x="174.6" y="764.5" font-size="14.5" text-anchor="start" font-weight="normal" fill="#111" textLength="151.6" lengthAdjust="spacingAndGlyphs" stroke="#111" stroke-width="0.3">Absolute difference in VAF (%)</text>
<text transform="translate(22.5,681.5) rotate(-90)" x="0" y="0" font-size="13.4" fill="#111" stroke="#111" stroke-width="0.3" textLength="78.3" lengthAdjust="spacingAndGlyphs">-log10(p-value)</text>
<circle cx="60.4" cy="566.40" r="1.95" fill="#6BAFE5"/>
<text x="67.10" y="569.4" font-size="11" fill="#1a1a1a" textLength="31.60" lengthAdjust="spacingAndGlyphs">ASXL1</text>
<circle cx="60.4" cy="583.20" r="1.95" fill="#21407E"/>
<text x="67.10" y="586.2" font-size="11" fill="#1a1a1a" textLength="20.20" lengthAdjust="spacingAndGlyphs">CBL</text>
<circle cx="60.4" cy="600.00" r="1.95" fill="#AFBE8B"/>
<text x="67.10" y="603.0" font-size="11" fill="#1a1a1a" textLength="47.10" lengthAdjust="spacingAndGlyphs">DNMT3A</text>
<circle cx="60.4" cy="616.80" r="1.95" fill="#E48F1B"/>
<text x="67.10" y="619.8" font-size="11" fill="#1a1a1a" textLength="31.00" lengthAdjust="spacingAndGlyphs">SF3B1</text>
<circle cx="60.4" cy="633.60" r="1.95" fill="#A45B1B"/>
<text x="67.10" y="636.6" font-size="11" fill="#1a1a1a" textLength="31.90" lengthAdjust="spacingAndGlyphs">SRSF2</text>
<circle cx="60.4" cy="650.40" r="1.95" fill="#8D85C0"/>
<text x="67.10" y="653.4" font-size="11" fill="#1a1a1a" textLength="24.60" lengthAdjust="spacingAndGlyphs">TET2</text>
<circle cx="130.6" cy="566.40" r="1.95" fill="#5CB045"/>
<text x="137.40" y="569.4" font-size="11" fill="#1a1a1a" textLength="26.60" lengthAdjust="spacingAndGlyphs">EZH2</text>
<circle cx="130.6" cy="583.20" r="1.95" fill="#CC0A7F"/>
<text x="137.40" y="586.2" font-size="11" fill="#1a1a1a" textLength="26.30" lengthAdjust="spacingAndGlyphs">JAK2</text>
<circle cx="130.6" cy="600.00" r="1.95" fill="#B3102C"/>
<text x="137.40" y="603.0" font-size="11" fill="#1a1a1a" textLength="35.40" lengthAdjust="spacingAndGlyphs">RUNX1</text>
<circle cx="130.6" cy="616.80" r="1.95" fill="#4E1E63"/>
<text x="137.40" y="619.8" font-size="11" fill="#1a1a1a" textLength="24.20" lengthAdjust="spacingAndGlyphs">TP53</text>
<circle cx="130.6" cy="633.60" r="1.95" fill="#F1C232"/>
<text x="137.40" y="636.6" font-size="11" fill="#1a1a1a" textLength="33.40" lengthAdjust="spacingAndGlyphs">U2AF1</text>
<text x="330" y="664" font-size="11" text-anchor="start" font-weight="normal" fill="#1a1a1a">N</text>
<circle cx="351.2" cy="660.5" r="9.5" fill="#000"/>
<text x="365.1" y="664.2" font-size="11.2" text-anchor="start" font-weight="normal" fill="#1a1a1a">100</text>
<circle cx="405.7" cy="660.4" r="13.2" fill="#000"/>
<text x="422.9" y="664.2" font-size="11.2" text-anchor="start" font-weight="normal" fill="#1a1a1a">200</text>
<circle cx="469.2" cy="660.4" r="16.4" fill="#000"/>
<text x="489.5" y="664.2" font-size="11.2" text-anchor="start" font-weight="normal" fill="#1a1a1a">300</text>
<rect x="0" y="0" width="520" height="1.55" fill="#000"/><rect x="0" y="0" width="1.6" height="777" fill="#000"/><rect x="518.1" y="0" width="1.9" height="777" fill="#000"/><rect x="0" y="775.05" width="520" height="1.95" fill="#000"/>
</svg>
</body></html>
